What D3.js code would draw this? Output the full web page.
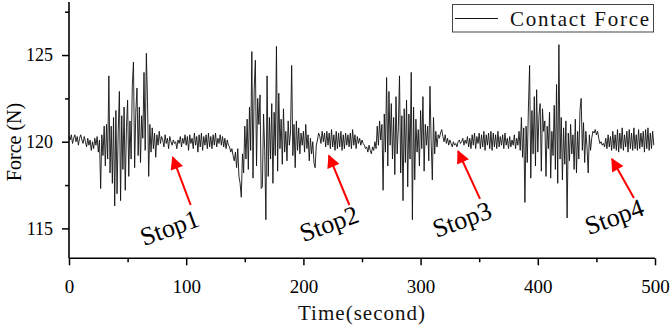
<!DOCTYPE html>
<html><head><meta charset="utf-8">
<script src="https://cdn.jsdelivr.net/npm/d3@7"></script>
<style>
html,body{margin:0;padding:0;background:#fff;}
svg{display:block;}
</style></head>
<body>
<svg id="chart" width="671" height="326"></svg>
<script>
// ---- data (1 sample per second, t = 0 .. 499 s) ----
const force = [
120.3,120.1,120.4,119.9,120.2,120.4,120.0,120.3,119.8,120.2,
120.4,120.1,119.9,120.3,120.0,119.7,120.2,119.8,120.1,119.5,
120.0,119.6,120.2,119.8,120.3,119.4,120.1,117.3,120.4,119.2,
120.9,118.6,121.0,119.0,123.8,118.2,120.9,117.6,121.4,116.3,
121.8,117.0,120.6,122.9,116.6,121.5,118.4,122.0,117.2,120.8,
122.4,118.0,121.2,119.0,123.2,124.6,118.5,121.7,123.1,119.2,
122.0,118.8,121.5,120.2,124.0,119.5,125.1,122.3,118.0,121.0,
119.4,120.8,119.6,120.5,119.1,120.4,119.8,120.6,119.9,120.3,
120.1,119.7,120.4,119.9,120.2,119.6,120.3,120.0,119.8,120.1,
119.9,120.0,119.6,120.1,119.9,120.3,119.7,120.2,119.9,120.4,
119.8,120.3,119.5,120.4,119.9,120.2,119.6,120.5,119.8,120.3,
119.4,120.4,119.7,120.5,119.5,120.3,119.8,120.4,119.6,120.5,
119.7,120.3,119.6,120.4,119.8,120.5,119.7,120.2,119.9,120.4,
119.8,120.3,119.7,120.2,119.6,120.1,119.8,119.7,119.4,119.6,
119.2,118.9,119.4,118.5,119.6,118.0,117.6,116.8,119.3,118.2,
120.9,119.0,121.3,118.4,122.0,119.5,125.2,117.9,123.0,124.7,
118.6,122.5,121.0,122.7,117.3,117.4,121.6,119.5,115.5,123.8,
118.0,121.4,119.0,122.2,117.6,121.7,119.2,125.5,118.3,122.8,
119.6,121.3,118.7,121.9,119.4,120.6,118.9,121.2,119.8,120.5,
124.4,119.2,121.0,118.5,121.2,119.5,120.8,119.3,120.5,119.8,
120.6,119.4,121.0,119.6,120.4,118.9,120.2,119.3,120.0,118.8,
118.5,119.8,120.1,120.5,120.3,119.9,120.6,120.0,120.5,119.7,
120.6,119.8,120.5,119.6,120.7,119.7,120.4,119.5,120.6,119.6,
120.5,119.7,120.6,119.5,120.4,119.6,120.5,119.8,120.4,119.7,
120.5,119.6,120.7,119.8,120.4,119.6,120.3,119.9,120.2,119.8,
120.1,119.9,119.8,119.6,119.7,119.4,119.8,119.5,119.3,119.7,
119.5,120.0,119.6,120.9,119.8,121.2,120.1,121.0,117.2,121.6,
119.4,123.7,118.6,122.9,119.8,122.2,119.0,121.4,118.1,122.6,
119.3,120.8,123.8,118.2,121.5,116.6,121.9,118.8,122.4,117.4,
121.6,119.0,124.0,115.5,122.0,117.8,121.3,119.4,120.7,118.6,
121.8,119.6,122.6,118.3,121.0,119.8,120.9,118.9,123.2,120.0,
117.8,121.4,119.3,120.6,119.7,120.4,120.2,120.5,120.7,120.3,
120.0,120.4,119.9,120.2,119.8,120.1,119.9,119.7,120.0,119.8,
119.9,119.7,120.0,120.1,119.9,120.0,120.2,119.8,120.1,119.9,
120.3,119.7,120.2,119.6,120.4,119.8,120.5,119.6,120.3,119.9,
120.5,119.6,120.4,119.7,120.6,119.5,120.4,119.8,120.5,119.6,
120.6,119.5,120.5,119.7,120.4,119.6,120.6,119.7,120.3,119.8,
120.4,119.6,120.5,119.8,120.2,119.6,120.3,119.7,120.1,119.8,
120.4,119.6,120.2,119.8,120.6,119.5,121.4,119.1,120.8,116.5,
120.9,118.8,122.0,124.4,117.9,121.8,119.3,122.6,118.6,123.0,
119.4,121.5,122.2,118.3,121.9,120.6,121.2,118.0,120.9,119.6,
121.7,117.9,120.6,119.2,122.1,118.4,123.3,117.6,125.6,119.0,
121.4,117.8,120.8,118.7,121.2,115.6,120.5,118.9,121.0,119.3,
120.4,118.4,121.3,118.2,120.6,119.0,121.8,122.5,119.5,121.1,
118.8,120.6,119.7,118.2,120.4,119.5,120.2,120.6,120.5,120.7,
120.4,120.6,120.2,119.9,120.0,119.8,119.9,119.7,120.2,119.6,
120.4,119.7,120.3,119.5,120.6,119.6,120.4,119.5,120.7,119.4,
120.5,119.6,120.8,119.5,120.4,119.7,120.6,119.4,120.7,119.6,
120.5,119.5,120.8,119.6,120.4,119.5,120.7,119.6,120.5,119.7,
120.6,119.4,120.7,119.6,120.8,119.5,120.5,119.6,120.6,119.8
];
const sampleInterval = 1; // seconds
const xTicks = [0, 100, 200, 300, 400, 500];
const xMinorTicks = [50, 150, 250, 350, 450];
const yTicks = [115, 120, 125];
const yMinorTicks = [117.5, 122.5, 127.5];
const xDomain = [0, 500];
const yDomain = [113.275, 128.06];
const stopLabels = ["Stop1", "Stop2", "Stop3", "Stop4"];
// arrow tip / tail and label anchor, in data units (time s, force N)
const stopTipT   = [88.5, 221.8, 332.0, 463.3];
const stopTipF   = [119.1, 119.2, 119.45, 119.0];
const stopTailT  = [103.8, 239.2, 350.7, 482.0];
const stopTailF  = [116.35, 116.35, 116.7, 116.75];
const stopTextT  = [64.0, 200.0, 313.5, 443.5];
const stopTextF  = [113.97, 114.2, 114.44, 114.6];
const legendLabel = "Contact Force";
const xTitle = "Time(second)";
const yTitle = "Force (N)";

// ---- drawing ----
const svg = d3.select("#chart");
const x = d3.scaleLinear().domain(xDomain).range([69, 655]);
const y = d3.scaleLinear().domain(yDomain).range([258.3, 2]);

// data line
const line = d3.line()
  .x((d, i) => x(i * sampleInterval))
  .y(d => y(d));
svg.append("path")
  .datum(force)
  .attr("d", line)
  .attr("fill", "none")
  .attr("stroke", "#111")
  .attr("stroke-width", 0.9)
  .attr("stroke-linejoin", "miter");

// axes
const numFont = "'Liberation Serif', 'Times New Roman', serif";
const xAxis = svg.append("g").attr("transform", "translate(0,258.3)")
  .call(d3.axisBottom(x).tickValues(xTicks).tickSize(7).tickPadding(14).tickFormat(d3.format("d")));
svg.append("g").attr("transform", "translate(0,258.3)")
  .call(d3.axisBottom(x).tickValues(xMinorTicks).tickSize(4).tickFormat(""))
  .select(".domain").remove();
const yAxis = svg.append("g").attr("transform", "translate(69,0)")
  .call(d3.axisLeft(y).tickValues(yTicks).tickSize(7).tickPadding(9).tickFormat(d3.format("d")));
svg.append("g").attr("transform", "translate(69,0)")
  .call(d3.axisLeft(y).tickValues(yMinorTicks).tickSize(4).tickFormat(""))
  .select(".domain").remove();

svg.selectAll(".domain").attr("stroke", "#000").attr("stroke-width", 1.6);
svg.selectAll(".tick line").attr("stroke", "#000").attr("stroke-width", 1.5);
xAxis.selectAll("text").attr("font-family", numFont).attr("font-size", 19).attr("fill", "#000");
yAxis.selectAll("text").attr("font-family", numFont).attr("font-size", 18).attr("fill", "#000");
xAxis.select(".domain").attr("d", "M69,0H655");
yAxis.select(".domain").attr("d", "M0,258.3V2");

// axis titles
svg.append("text")
  .attr("x", 298).attr("y", 320)
  .attr("font-family", numFont).attr("font-size", 21).attr("font-weight", "normal")
  .attr("fill", "#111")
  .attr("textLength", 127).attr("lengthAdjust", "spacing")
  .text(xTitle);
svg.append("text")
  .attr("transform", "translate(21,142) rotate(-90)")
  .attr("text-anchor", "middle")
  .attr("font-family", numFont).attr("font-size", 20)
  .text(yTitle);

// legend
const lg = svg.append("g");
lg.append("rect").attr("x", 452.5).attr("y", 4.5).attr("width", 201).attr("height", 27.5)
  .attr("fill", "#fff").attr("stroke", "#444").attr("stroke-width", 1);
lg.append("line").attr("x1", 455).attr("x2", 498).attr("y1", 18.5).attr("y2", 18.5)
  .attr("stroke", "#111").attr("stroke-width", 1);
lg.append("text").attr("x", 510).attr("y", 26)
  .attr("font-family", numFont).attr("font-size", 21).attr("fill", "#111")
  .attr("textLength", 139).attr("lengthAdjust", "spacing")
  .text(legendLabel);

// stop annotations
const defs = svg.append("defs");
defs.append("marker").attr("id", "ah").attr("viewBox", "0 0 10 10")
  .attr("refX", 9).attr("refY", 5).attr("markerWidth", 7).attr("markerHeight", 6.5)
  .attr("markerUnits", "strokeWidth").attr("orient", "auto")
  .append("path").attr("d", "M0,0L10,5L0,10Z").attr("fill", "#ff0000");

stopLabels.forEach((lab, i) => {
  svg.append("line")
    .attr("x1", x(stopTailT[i])).attr("y1", y(stopTailF[i]))
    .attr("x2", x(stopTipT[i])).attr("y2", y(stopTipF[i]))
    .attr("stroke", "#ff0000").attr("stroke-width", 2)
    .attr("marker-end", "url(#ah)");
  svg.append("text")
    .attr("transform", `translate(${x(stopTextT[i])},${y(stopTextF[i])}) rotate(-20)`)
    .attr("font-family", numFont).attr("font-size", 26).attr("fill", "#000")
    .text(lab);
});
</script>
</body></html>
